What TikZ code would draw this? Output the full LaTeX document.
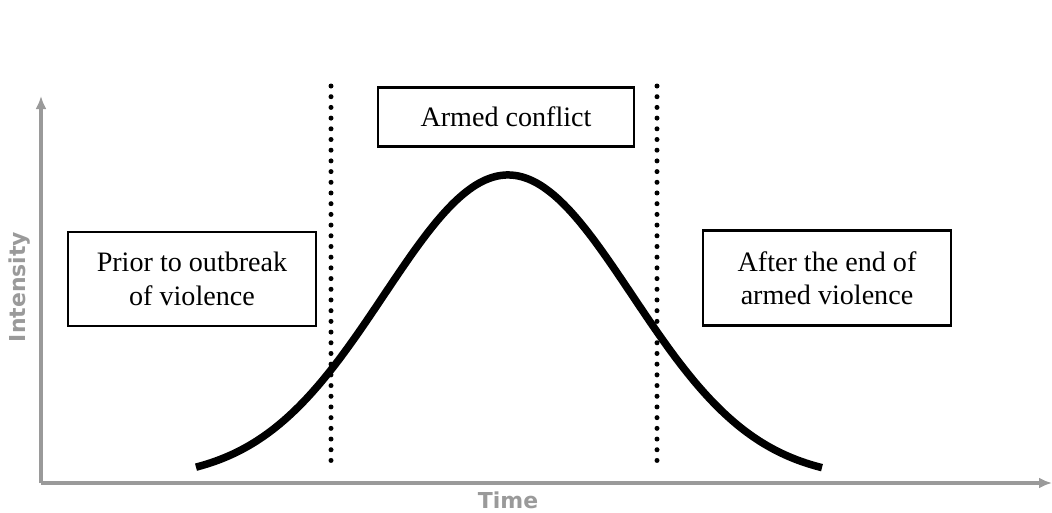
\documentclass[tikz,border=0pt]{standalone}
\usepackage{fontspec}
\setmainfont{Liberation Serif}
\newfontfamily\axisfont{DejaVu Sans}
\usetikzlibrary{arrows.meta}
\definecolor{axisgray}{HTML}{9A9A9A}
\begin{document}
\begin{tikzpicture}[x=0.02cm,y=-0.02cm,
		phase/.style={draw,line width=1.2pt,align=center,font=\fontsize{16}{19}\selectfont},
		axis/.style={axisgray,line width=0.07cm,-{Latex[length=0.26cm,width=0.22cm]}},
		axislabel/.style={axisgray,font=\axisfont\bfseries\fontsize{12.5}{14}\selectfont},
		border/.style={line width=0.1cm,line cap=round,dash pattern=on 0pt off 0.214cm}]
				\useasboundingbox (0,0) rectangle (1052,512);
				% axes
				\coordinate(origin) at (41,483);
				\coordinate(ytop) at (41,96);
				\coordinate(xend) at (1052,483);
				\draw[axis] (origin) -- (ytop);
				\draw[axis] (origin) -- (xend);
				\node[axislabel,rotate=90](intensity) at (20,287) {Intensity};
				\node[axislabel](time) at (508,500) {Time};
				
				% phase borders
				\draw[border] (331,86) -- (331,462);
				\draw[border] (657,86) -- (657,462);
				
				% phases
				\node[phase,minimum width=5.12cm,minimum height=1.18cm](conflict) at (506,117) {Armed conflict};
				\node[phase,minimum width=4.96cm,minimum height=1.88cm](prior) at (192,279) {Prior to outbreak\\of violence};
				\node[phase,minimum width=4.96cm,minimum height=1.9cm](after) at (827,278) {After the end of\\armed violence};
				
				% intensity curve
				\draw[line width=0.15cm,domain=196:822,samples=120,smooth]
					plot (\x,{480-305*exp(-0.5*((\x-508)/124)^2)});
			\end{tikzpicture}
\end{document}
